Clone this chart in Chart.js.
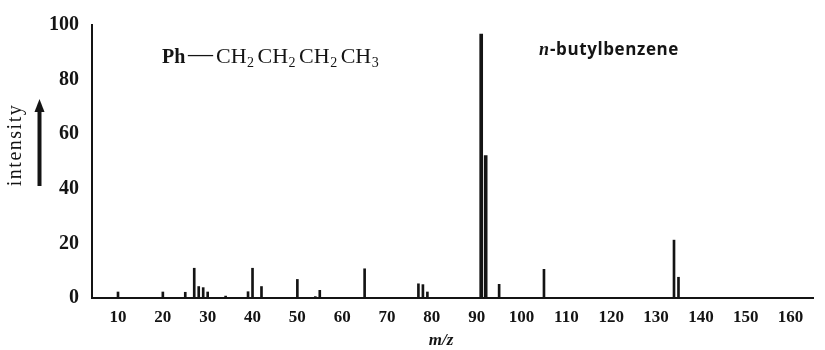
<!DOCTYPE html>
<html><head><meta charset="utf-8">
<script src="https://cdn.jsdelivr.net/npm/chart.js@4.4.1/dist/chart.umd.min.js"></script>
<style>html,body{margin:0;padding:0;background:#fff}canvas{display:block}</style>
</head><body>
<canvas id="c" width="825" height="350"></canvas>
<script>
// ---- data ----
const mz        = [10, 20, 25, 27, 28, 29, 30, 34, 39, 40, 42, 50, 54, 55, 65, 77, 78, 79, 91, 92, 95, 105, 134, 135];
const intensity = [2.2, 2.2, 2.1, 10.9, 4.2, 3.8, 2.2, 0.7, 2.3, 10.9, 4.2, 6.8, 0.5, 2.8, 10.7, 5.2, 4.9, 2.2, 96.7, 52.2, 5.0, 10.5, 21.2, 7.6];
const xTicks = [10, 20, 30, 40, 50, 60, 70, 80, 90, 100, 110, 120, 130, 140, 150, 160];
const yTicks = [0, 20, 40, 60, 80, 100];
const xTitle = 'm/z';
const yTitle = 'intensity';
const compoundName = 'n-butylbenzene';

const INK = '#141414';
const points = mz.map((m, i) => ({x: m, y: intensity[i]}));
const major = points.filter(p => p.y >= 50);
const minor = points.filter(p => p.y < 50);

const annot = {
  id: 'annot',
  afterDraw(chart) {
    const ctx = chart.ctx;
    ctx.save();
    ctx.fillStyle = INK;
    ctx.strokeStyle = INK;
    ctx.textAlign = 'left';
    ctx.textBaseline = 'alphabetic';
    // formula Ph—CH2CH2CH2CH3
    const base = 63;
    let x = 162;
    ctx.font = 'bold 20px "Liberation Serif"';
    ctx.fillText('Ph', x, base);
    ctx.font = '25px "Liberation Serif"';
    ctx.fillText('—', 188, base - 1);
    x = 216;
    ['2', '2', '2', '3'].forEach(s => {
      ctx.font = '22px "Liberation Serif"';
      ctx.fillText('CH', x, base);
      x += ctx.measureText('CH').width + 0.5;
      ctx.font = '14px "Liberation Serif"';
      ctx.fillText(s, x, base + 4);
      x += ctx.measureText(s).width + 3.5;
    });
    // compound name
    ctx.font = 'italic bold 18px "Liberation Serif"';
    ctx.fillText(compoundName.slice(0, 1), 539, 55);
    const w0 = ctx.measureText(compoundName.slice(0, 1)).width;
    ctx.font = 'bold 17px "Open Sans"';
    ctx.letterSpacing = '0.6px';
    ctx.fillText(compoundName.slice(1), 539 + w0 + 1, 55);
    ctx.letterSpacing = '0px';
    // x title
    ctx.textAlign = 'center';
    ctx.font = 'italic bold 17px "Liberation Serif"';
    ctx.fillText(xTitle, 441, 345);
    // y title, rotated
    ctx.save();
    ctx.translate(21, 145);
    ctx.rotate(-Math.PI / 2);
    ctx.font = '20px "Liberation Serif"';
    ctx.letterSpacing = '1.5px';
    ctx.fillText(yTitle, 0, 0);
    ctx.restore();
    // arrow
    ctx.lineWidth = 4;
    ctx.beginPath();
    ctx.moveTo(39.5, 186);
    ctx.lineTo(39.5, 109);
    ctx.stroke();
    ctx.beginPath();
    ctx.moveTo(39.5, 99);
    ctx.lineTo(34.5, 112);
    ctx.lineTo(44.5, 112);
    ctx.closePath();
    ctx.fill();
    ctx.restore();
  }
};

new Chart(document.getElementById('c'), {
  type: 'bar',
  data: {
    datasets: [
      {data: major, backgroundColor: INK, barThickness: 3, grouped: false},
      {data: minor, backgroundColor: INK, barThickness: 2, grouped: false}
    ]
  },
  options: {
    responsive: false,
    animation: false,
    devicePixelRatio: 1,
    layout: {padding: {left: 0, top: 22, right: 12, bottom: 0}},
    plugins: {legend: {display: false}, tooltip: {enabled: false}},
    scales: {
      x: {
        type: 'linear',
        offset: false,
        min: 4.2,
        max: 165,
        grid: {display: false, drawTicks: false},
        border: {display: true, color: INK, width: 2},
        afterBuildTicks: s => { s.ticks = xTicks.map(v => ({value: v})); },
        afterFit: s => { s.height = 52; },
        ticks: {
          autoSkip: false, maxRotation: 0, padding: 9, color: INK,
          font: {family: '"Liberation Serif"', size: 17, weight: 'bold'}
        }
      },
      y: {
        type: 'linear',
        min: 0,
        max: 100,
        grid: {display: false, drawTicks: false},
        border: {display: true, color: INK, width: 2},
        afterBuildTicks: s => { s.ticks = yTicks.map(v => ({value: v})); },
        afterFit: s => { s.width = 92; },
        ticks: {
          padding: 13, color: INK,
          font: {family: '"Liberation Serif"', size: 20, weight: 'bold'}
        }
      }
    }
  },
  plugins: [annot]
});
</script>
</body></html>
